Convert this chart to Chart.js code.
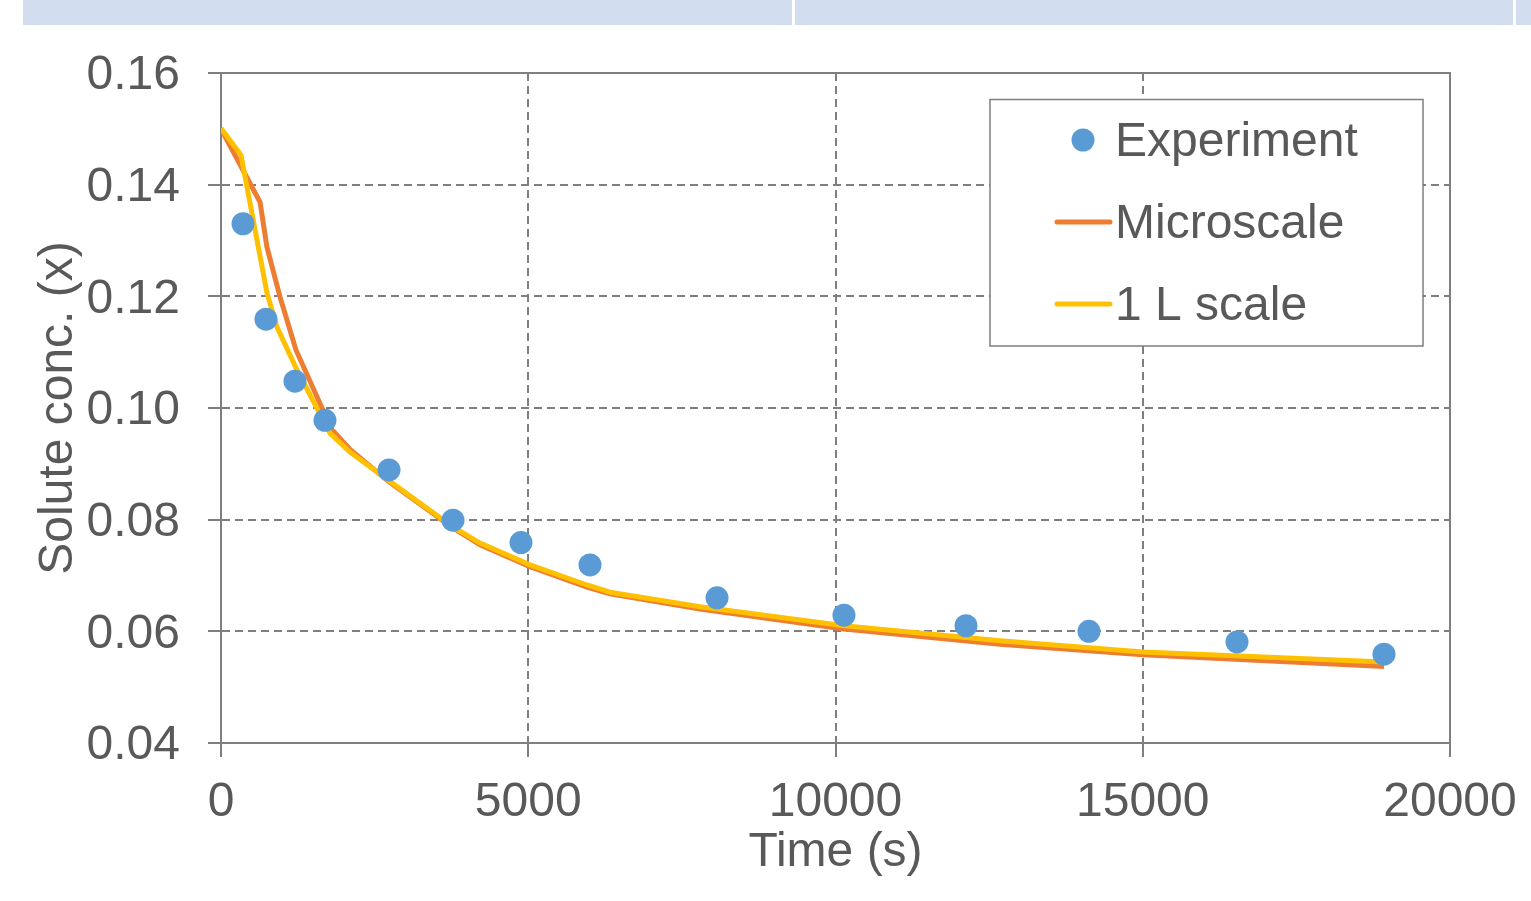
<!DOCTYPE html>
<html>
<head>
<meta charset="utf-8">
<script src="https://cdn.jsdelivr.net/npm/chart.js@4/dist/chart.umd.min.js"></script>
<style>
  html, body { margin: 0; padding: 0; background: #ffffff; }
  #wrap { position: relative; width: 1531px; height: 901px; overflow: hidden; }
  .band { position: absolute; top: 0; height: 25px; background: #D2DEEF; }
  canvas { position: absolute; left: 0; top: 0; }
</style>
</head>
<body>
<div id="wrap">
  <canvas id="c" width="1531" height="901"></canvas>
  <div class="band" style="left:23px;width:769px;"></div>
  <div class="band" style="left:795px;width:718px;"></div>
  <div class="band" style="left:1516px;width:15px;"></div>
</div>
<script>
// ---- Data ----
const expTime = [358, 732, 1204, 1692, 2734, 3775, 4882, 6005, 8072, 10138, 12124, 14125, 16534, 18926];
const expConc = [0.1330, 0.1159, 0.1048, 0.0978, 0.0889, 0.0799, 0.0759, 0.0719, 0.0660, 0.0629, 0.0610, 0.0600, 0.0581, 0.0559];

const microTime = [0, 635, 748, 960, 1220, 1644, 1800, 2100, 2718, 3775, 4215, 5028, 5956, 6330, 7795, 10138, 12677, 15004, 18926];
const microConc = [0.1500, 0.1369, 0.1288, 0.1199, 0.1104, 0.1000, 0.0962, 0.0926, 0.0869, 0.0785, 0.0755, 0.0716, 0.0679, 0.0667, 0.0640, 0.0604, 0.0577, 0.0558, 0.0537];

const literTime = [0, 325, 748, 911, 1237, 1774, 2099, 2718, 3775, 4215, 5028, 5956, 6330, 7795, 10138, 12677, 15004, 18926];
const literConc = [0.1501, 0.1453, 0.1206, 0.1145, 0.1068, 0.0955, 0.0921, 0.0871, 0.0787, 0.0758, 0.0719, 0.0683, 0.0670, 0.0644, 0.0610, 0.0583, 0.0563, 0.0545];

const seriesLabels = ["Experiment", "Microscale", "1 L scale"];
const xTickValues = [0, 5000, 10000, 15000, 20000];
const xTickLabels = ["0", "5000", "10000", "15000", "20000"];
const yTickValues = [0.04, 0.06, 0.08, 0.10, 0.12, 0.14, 0.16];
const yTickLabels = ["0.04", "0.06", "0.08", "0.10", "0.12", "0.14", "0.16"];
const xTitle = "Time (s)";
const yTitle = "Solute conc. (x)";

// ---- Styles ----
const FONT = "'Liberation Sans', Arial, sans-serif";
const FSIZE = 48;
const TEXT = "#595959";
const AXIS = "#7F7F7F";
const colors = ["#5B9BD5", "#ED7D31", "#FFC000"];

function pts(xs, ys) { return xs.map((x, i) => ({ x: x, y: ys[i] })); }

const frameAndLegend = {
  id: 'frameAndLegend',
  beforeDatasetsDraw(chart) {
    const { ctx, chartArea: a } = chart;
    ctx.save();
    ctx.strokeStyle = AXIS;
    ctx.lineWidth = 2;
    ctx.setLineDash([]);
    ctx.strokeRect(a.left, a.top, a.right - a.left, a.bottom - a.top);
    ctx.restore();
  },
  afterDraw(chart) {
    const ctx = chart.ctx;
    ctx.save();
    ctx.fillStyle = "#ffffff";
    ctx.fillRect(990, 99, 433, 247);
    ctx.strokeStyle = AXIS;
    ctx.lineWidth = 1.5;
    ctx.strokeRect(990, 99.5, 433, 246.5);
    const rowY = [140, 222, 304];
    chart.data.datasets.forEach((ds, i) => {
      const y = rowY[i];
      if (i === 0) {
        ctx.fillStyle = ds.backgroundColor;
        ctx.beginPath();
        ctx.arc(1083, y, 11.5, 0, Math.PI * 2);
        ctx.fill();
      } else {
        ctx.strokeStyle = ds.borderColor;
        ctx.lineWidth = 5;
        ctx.lineCap = 'round';
        ctx.beginPath();
        ctx.moveTo(1057, y);
        ctx.lineTo(1110, y);
        ctx.stroke();
      }
      ctx.fillStyle = TEXT;
      ctx.font = FSIZE + "px " + FONT;
      ctx.textBaseline = 'middle';
      ctx.textAlign = 'left';
      ctx.fillText(ds.label, 1115, y + 3);
    });
    ctx.restore();
  }
};

new Chart(document.getElementById('c'), {
  type: 'scatter',
  data: {
    datasets: [
      {
        label: seriesLabels[0],
        data: pts(expTime, expConc),
        showLine: false,
        backgroundColor: colors[0],
        borderColor: colors[0],
        pointRadius: 11.5,
        pointBorderWidth: 0,
        order: 0
      },
      {
        label: seriesLabels[1],
        data: pts(microTime, microConc),
        showLine: true,
        borderColor: colors[1],
        backgroundColor: colors[1],
        borderWidth: 5,
        pointRadius: 0,
        tension: 0,
        order: 2
      },
      {
        label: seriesLabels[2],
        data: pts(literTime, literConc),
        showLine: true,
        borderColor: colors[2],
        backgroundColor: colors[2],
        borderWidth: 5,
        pointRadius: 0,
        tension: 0,
        order: 1
      }
    ]
  },
  options: {
    responsive: false,
    animation: false,
    devicePixelRatio: 1,
    layout: { autoPadding: false, padding: { left: 0, top: 73, right: 81, bottom: 0 } },
    plugins: { legend: { display: false }, tooltip: { enabled: false } },
    scales: {
      x: {
        type: 'linear',
        min: 0, max: 20000,
        afterBuildTicks(s) { s.ticks = xTickValues.map(v => ({ value: v })); },
        afterFit(s) { s.height = 158; s.paddingLeft = 0; s.paddingRight = 0; },
        ticks: {
          callback(v) { const i = xTickValues.indexOf(v); return i >= 0 ? xTickLabels[i] : ''; },
          color: TEXT,
          font: { family: FONT, size: FSIZE },
          padding: 17,
          maxRotation: 0
        },
        grid: {
          color: AXIS,
          lineWidth: 2,
          tickLength: 14,
          tickColor: AXIS,
          tickWidth: 2,
          tickBorderDash: []
        },
        border: { display: true, color: AXIS, width: 2, dash: [8, 5] },
        title: {
          display: true,
          text: xTitle,
          color: TEXT,
          font: { family: FONT, size: FSIZE },
          padding: { top: 0, bottom: 19 }
        }
      },
      y: {
        type: 'linear',
        min: 0.04, max: 0.16,
        afterBuildTicks(s) { s.ticks = yTickValues.map(v => ({ value: v })); },
        afterFit(s) { s.width = 221; s.paddingTop = 0; s.paddingBottom = 0; },
        ticks: {
          callback(v) {
            const i = yTickValues.findIndex(t => Math.abs(t - v) < 1e-9);
            return i >= 0 ? yTickLabels[i] : '';
          },
          color: TEXT,
          font: { family: FONT, size: FSIZE },
          padding: 28,
          labelOffset: 3
        },
        grid: {
          color: AXIS,
          lineWidth: 2,
          tickLength: 13,
          tickColor: AXIS,
          tickWidth: 2,
          tickBorderDash: []
        },
        border: { display: true, color: AXIS, width: 2, dash: [8, 5] },
        title: {
          display: true,
          text: yTitle,
          color: TEXT,
          font: { family: FONT, size: FSIZE },
          padding: { top: 30, bottom: 0 }
        }
      }
    }
  },
  plugins: [frameAndLegend]
});
</script>
</body>
</html>
